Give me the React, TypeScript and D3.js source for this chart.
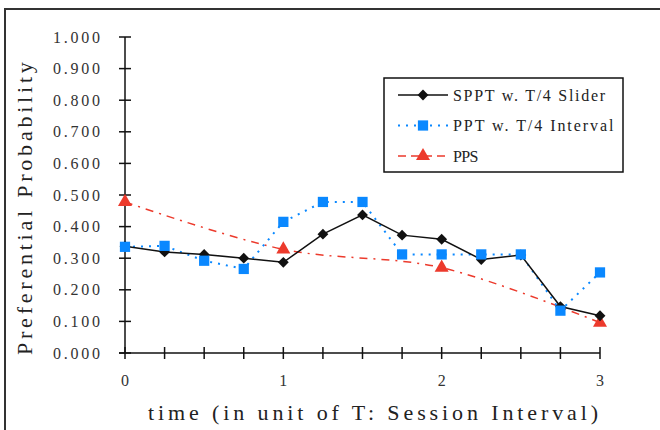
import React, { useEffect, useRef } from "react";
import * as d3 from "d3";

// time positions in units of T
const times = [0, 0.25, 0.5, 0.75, 1, 1.25, 1.5, 1.75, 2, 2.25, 2.5, 2.75, 3];
const spptValues = [0.338, 0.32, 0.312, 0.3, 0.287, 0.376, 0.437, 0.373, 0.36, 0.296, 0.31, 0.147, 0.118];
const pptValues = [0.336, 0.339, 0.292, 0.266, 0.415, 0.478, 0.478, 0.312, 0.312, 0.312, 0.312, 0.134, 0.255];
const ppsTimes = [0, 1, 2, 3];
const ppsValues = [0.478, 0.328, 0.27, 0.096];
const yTicks = [0, 0.1, 0.2, 0.3, 0.4, 0.5, 0.6, 0.7, 0.8, 0.9, 1.0];
const xMinorTicks = times;
const xLabels = [0, 1, 2, 3];
const legendNames = ["SPPT w. T/4 Slider", "PPT w. T/4 Interval", "PPS"];

const width = 660;
const height = 430;
const serif = "'Liberation Serif', 'DejaVu Serif', serif";
const black = "#111";
const blue = "#0a88ff";
const red = "#ec3a2c";

// spread text like the monospaced original
const spread = (s: string, charW: number) => s.length * charW;

export default function App() {
  const ref = useRef<SVGSVGElement>(null);

  useEffect(() => {
    const svg = d3.select(ref.current);
    svg.selectAll("*").remove();

    const x = d3.scaleLinear().domain([0, 3]).range([125, 600]);
    const y = d3.scaleLinear().domain([0, 1]).range([353, 37]);

    // outer frame (only top and left edges visible)
    svg.append("rect")
      .attr("x", 5).attr("y", 9)
      .attr("width", 700).attr("height", 500)
      .attr("fill", "none")
      .attr("stroke", "#333")
      .attr("stroke-width", 2);

    // y axis
    const g = svg.append("g");
    g.append("line")
      .attr("x1", x(0)).attr("x2", x(0))
      .attr("y1", y(1)).attr("y2", y(0))
      .attr("stroke", black).attr("stroke-width", 1.5);
    g.selectAll("line.yt").data(yTicks).enter().append("line")
      .attr("x1", x(0) - 6).attr("x2", x(0) + 6)
      .attr("y1", d => y(d)).attr("y2", d => y(d))
      .attr("stroke", black).attr("stroke-width", 1.5);
    g.selectAll("text.yl").data(yTicks).enter().append("text")
      .attr("x", 53).attr("y", d => y(d) + 5.5)
      .attr("textLength", 47).attr("lengthAdjust", "spacing")
      .style("font", "16px " + serif)
      .attr("fill", "#333")
      .text(d => d3.format(".3f")(d));

    // x axis
    g.append("line")
      .attr("x1", x(0) - 6).attr("x2", x(3))
      .attr("y1", y(0)).attr("y2", y(0))
      .attr("stroke", black).attr("stroke-width", 1.5);
    g.selectAll("line.xt").data(xMinorTicks).enter().append("line")
      .attr("x1", d => x(d)).attr("x2", d => x(d))
      .attr("y1", y(0) - 6).attr("y2", y(0) + 6)
      .attr("stroke", black).attr("stroke-width", 1.5);
    g.selectAll("text.xl").data(xLabels).enter().append("text")
      .attr("x", d => x(d)).attr("y", 386)
      .attr("text-anchor", "middle")
      .style("font", "16px " + serif)
      .attr("fill", "#333")
      .text(d => d);

    // axis titles
    const yTitle = "Preferential Probability";
    svg.append("text")
      .attr("transform", "translate(32,355) rotate(-90)")
      .attr("textLength", spread(yTitle, 12.2)).attr("lengthAdjust", "spacing")
      .style("font", "22px " + serif)
      .attr("fill", "#222")
      .text(yTitle);
    const xTitle = "time (in unit of T: Session Interval)";
    svg.append("text")
      .attr("x", 148).attr("y", 420)
      .attr("textLength", 450).attr("lengthAdjust", "spacing")
      .style("font", "22px " + serif)
      .attr("fill", "#222")
      .text(xTitle);

    const line = d3.line<[number, number]>().x(d => x(d[0])).y(d => y(d[1]));

    const ppsData: [number, number][] = ppsTimes.map((t, i) => [t, ppsValues[i]]);
    const pptData: [number, number][] = times.map((t, i) => [t, pptValues[i]]);
    const spptData: [number, number][] = times.map((t, i) => [t, spptValues[i]]);

    // PPS (red, dash-dot, smoothed)
    svg.append("path")
      .attr("d", line.curve(d3.curveCatmullRom)(ppsData))
      .attr("fill", "none").attr("stroke", red)
      .attr("stroke-width", 1.5).attr("stroke-dasharray", "8,6,2,6");
    line.curve(d3.curveLinear);

    // PPT (blue, dotted)
    svg.append("path")
      .attr("d", line(pptData))
      .attr("fill", "none").attr("stroke", blue)
      .attr("stroke-width", 2).attr("stroke-dasharray", "2,6");

    // SPPT (black, solid)
    svg.append("path")
      .attr("d", line(spptData))
      .attr("fill", "none").attr("stroke", black)
      .attr("stroke-width", 1.5);

    const diamond = d3.symbol().type(d3.symbolDiamond2).size(75);
    const square = d3.symbol().type(d3.symbolSquare).size(105);
    const triangle = d3.symbol().type(d3.symbolTriangle).size(85);

    svg.selectAll("path.pps").data(ppsData).enter().append("path")
      .attr("d", triangle)
      .attr("transform", d => `translate(${x(d[0])},${y(d[1])})`)
      .attr("fill", red);
    svg.selectAll("path.sppt").data(spptData).enter().append("path")
      .attr("d", diamond)
      .attr("transform", d => `translate(${x(d[0])},${y(d[1])})`)
      .attr("fill", black);
    svg.selectAll("path.ppt").data(pptData).enter().append("path")
      .attr("d", square)
      .attr("transform", d => `translate(${x(d[0])},${y(d[1])})`)
      .attr("fill", blue);

    // legend
    const lg = svg.append("g");
    lg.append("rect")
      .attr("x", 384).attr("y", 78)
      .attr("width", 239).attr("height", 94)
      .attr("fill", "white").attr("stroke", black).attr("stroke-width", 1.5);
    const rows = [
      { name: legendNames[0], color: black, dash: null, sym: diamond, w: 1.5 },
      { name: legendNames[1], color: blue, dash: "2,6", sym: square, w: 2 },
      { name: legendNames[2], color: red, dash: "8,5", sym: triangle, w: 1.5 },
    ];
    rows.forEach((r, i) => {
      const ry = 95 + i * 30.5;
      lg.append("line")
        .attr("x1", 398).attr("x2", 448)
        .attr("y1", ry).attr("y2", ry)
        .attr("stroke", r.color).attr("stroke-width", r.w)
        .attr("stroke-dasharray", r.dash);
      lg.append("path")
        .attr("d", r.sym)
        .attr("transform", `translate(423,${ry})`)
        .attr("fill", r.color);
      lg.append("text")
        .attr("x", 453).attr("y", ry + 5.5)
        .attr("textLength", spread(r.name, 8.45)).attr("lengthAdjust", "spacing")
        .style("font", "16px " + serif)
        .attr("fill", "#222")
        .text(r.name);
    });
  }, []);

  return (
    <div style={{ position: "absolute", left: 0, top: 0 }}>
      <svg ref={ref} width={width} height={height} style={{ display: "block", background: "white" }} />
    </div>
  );
}
